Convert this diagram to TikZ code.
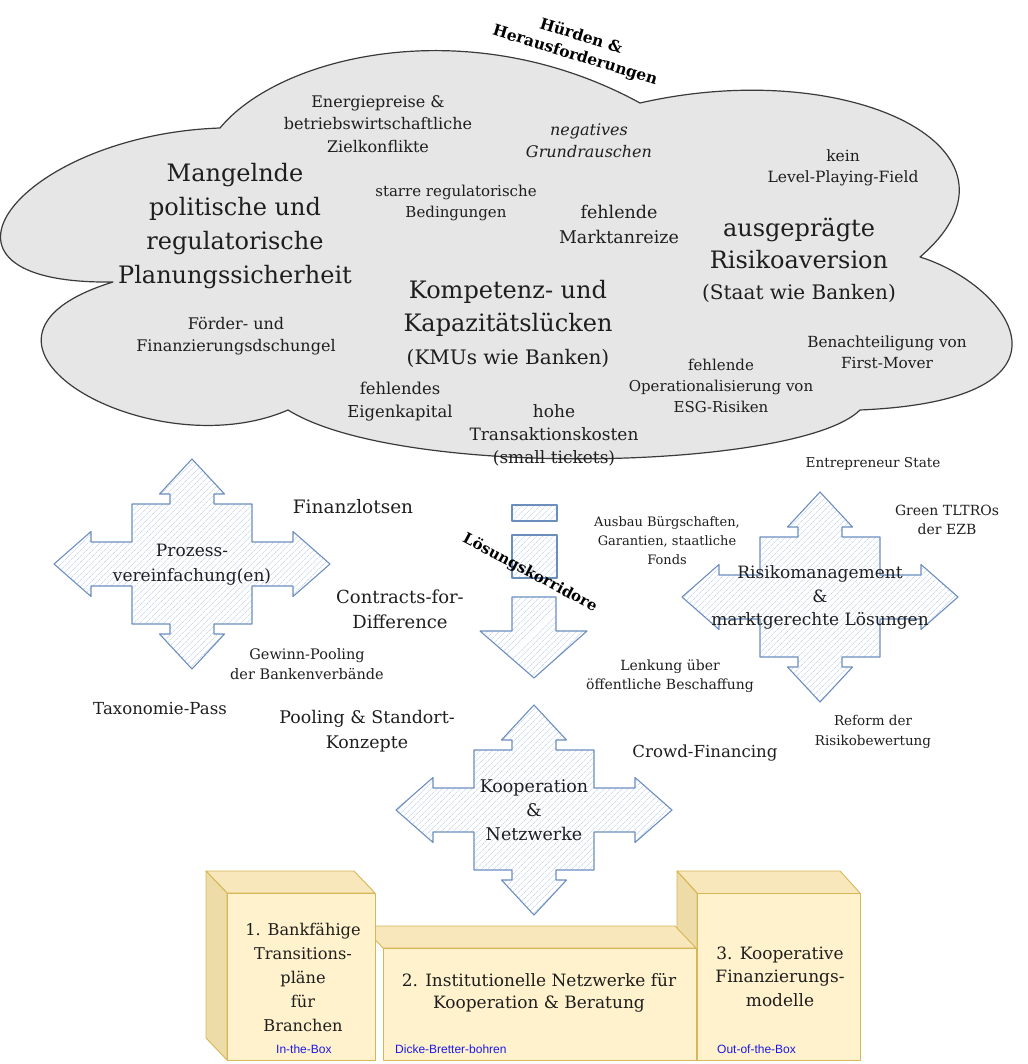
\documentclass[tikz,border=0pt]{standalone}
\usepackage{fontspec}
\setmainfont{DejaVu Serif}
\newfontfamily\labelsans{Liberation Sans}
\usetikzlibrary{patterns.meta}

\definecolor{cloudgray}{HTML}{E6E6E6}
\definecolor{cloudedge}{HTML}{3A3A3A}
\definecolor{crossblue}{HTML}{6C8EBF}
\definecolor{hatchblue}{HTML}{B9CDEA}
\definecolor{boxfront}{HTML}{FFF2CC}
\definecolor{boxtop}{HTML}{F7E7BA}
\definecolor{boxside}{HTML}{EEDCA8}
\definecolor{boxedge}{HTML}{D6B656}
\definecolor{labelblue}{HTML}{1A1AE6}
\definecolor{textdark}{HTML}{1E1E1E}

\tikzset{
  txt/.style={align=center, inner sep=0pt, text=textdark},
  fs/.style 2 args={font=\fontsize{#1}{#2}\selectfont},
  fsbold/.style 2 args={font=\fontsize{#1}{#2}\selectfont\bfseries},
  fsital/.style 2 args={font=\fontsize{#1}{#2}\selectfont\itshape},
  hatched/.style={draw=crossblue, line width=1.1pt, line join=round,
    pattern={Lines[angle=45,distance=4pt,line width=0.5pt]}, pattern color=hatchblue},
  cubeface/.style={draw=boxedge, line width=0.9pt, line join=round},
  boxlabel/.style={inner sep=0pt, text=labelblue, font=\labelsans\fontsize{12}{14}\selectfont},
  crossarrow/.pic={
    \draw[hatched] (0,-105) -- (32.5,-70) -- (22,-70) -- (22,-60) -- (60,-60) -- (60,-22)
      -- (101,-22) -- (101,-32.5) -- (138,0) -- (101,32.5) -- (101,22) -- (60,22)
      -- (60,60) -- (22,60) -- (22,70) -- (32.5,70) -- (0,105) -- (-32.5,70)
      -- (-22,70) -- (-22,60) -- (-60,60) -- (-60,22) -- (-101,22) -- (-101,32.5)
      -- (-138,0) -- (-101,-32.5) -- (-101,-22) -- (-60,-22) -- (-60,-60) -- (-22,-60)
      -- (-22,-70) -- (-32.5,-70) -- cycle;
  }
}

\begin{document}
\begin{tikzpicture}[x=1pt,y=-1pt]
  \useasboundingbox (0,0) rectangle (1027,1064);

  % cloud of obstacles
  \draw[fill=cloudgray, draw=cloudedge, line width=1.2pt, line join=round] (220,128)
    .. controls (280,55) and (470,10) .. (640,103)
    .. controls (850,55) and (1045,150) .. (920,257)
    .. controls (1010,285) and (1095,400) .. (860,410)
    .. controls (800,470) and (400,480) .. (288,410)
    .. controls (150,470) and (-75,340) .. (113,282)
    .. controls (-100,285) and (20,135) .. (220,128) -- cycle;

  \node[txt, fsbold={15.5}{20}, text=black, rotate=-17] (hurden) at (578,46) {Hürden \&\\Herausforderungen};

  \node[txt, fs={16}{22.5}] (energie) at (378,124) {Energiepreise \&\\betriebswirtschaftliche\\Zielkonflikte};
  \node[txt, fsital={16}{22}] (rauschen) at (589,141) {negatives\\Grundrauschen};
  \node[txt, fs={15.5}{21}] (levelfield) at (843,168) {kein\\Level-Playing-Field};
  \node[txt, fs={24}{34}] (planung) at (235,226) {Mangelnde\\politische und\\regulatorische\\Planungssicherheit};
  \node[txt, fs={15}{21}] (starr) at (456,202.5) {starre regulatorische\\Bedingungen};
  \node[txt, fs={17.5}{25}] (marktanreiz) at (619,224.5) {fehlende\\Marktanreize};
  \node[txt, fs={24}{32}] (risikoaversion) at (799,243) {ausgeprägte\\Risikoaversion};
  \node[txt, fs={20}{24}] (staatbanken) at (799,293) {(Staat wie Banken)};
  \node[txt, fs={24}{33}] (kompetenz) at (508,308.5) {Kompetenz- und\\Kapazitätslücken};
  \node[txt, fs={20}{24}] (kmubanken) at (508,358) {(KMUs wie Banken)};
  \node[txt, fs={16}{22}] (dschungel) at (236,336) {Förder- und\\Finanzierungsdschungel};
  \node[txt, fs={15.3}{21}] (firstmover) at (887,352.5) {Benachteiligung von\\First-Mover};
  \node[txt, fs={15}{21}] (esg) at (721,386) {fehlende\\Operationalisierung von\\ESG-Risiken};
  \node[txt, fs={16.4}{23}] (eigenkapital) at (400,401.5) {fehlendes\\Eigenkapital};
  \node[txt, fs={17}{23}] (transaktion) at (554,435.7) {hohe\\Transaktionskosten\\(small tickets)};

  % solution corridors
  \pic (procross) at (192,564) {crossarrow};
  \pic (riskcross) at (820,597) {crossarrow};
  \pic (coopcross) at (534,810) {crossarrow};

  \draw[hatched] (512,505) rectangle (557,521);
  \draw[hatched] (512,535) rectangle (557,578);
  \draw[hatched] (512,597) -- (556,597) -- (556,631) -- (587,631) -- (534,678)
    -- (480,631) -- (512,631) -- cycle;

  \node[txt, fsbold={15}{18}, text=black, rotate=-28] (korridor) at (530,573) {Lösungskorridore};

  \node[txt, fs={17}{25}] (prozess) at (192,564.5) {Prozess-\\vereinfachung(en)};
  \node[txt, fs={17}{23.5}] (risiko) at (820,597.5) {Risikomanagement\\\&\\marktgerechte Lösungen};
  \node[txt, fs={17.5}{24}] (kooperation) at (534,810) {Kooperation\\\&\\Netzwerke};

  \node[txt, fs={18.5}{24}] (lotsen) at (353,507) {Finanzlotsen};
  \node[txt, fs={18}{25}] (cfd) at (400,609.5) {Contracts-for-\\Difference};
  \node[txt, fs={14.5}{20}] (gewinnpool) at (307,664) {Gewinn-Pooling\\der Bankenverbände};
  \node[txt, fs={16.6}{22}] (taxonomie) at (160,709) {Taxonomie-Pass};
  \node[txt, fs={17.4}{25}] (standort) at (367,731.5) {Pooling \& Standort-\\Konzepte};
  \node[txt, fs={13}{18.7}] (buergschaft) at (667,540.7) {Ausbau Bürgschaften,\\Garantien, staatliche\\Fonds};
  \node[txt, fs={13.6}{18}] (entrepreneur) at (873,464) {Entrepreneur State};
  \node[txt, fs={14}{19}] (tltro) at (947,519.5) {Green TLTROs\\der EZB};
  \node[txt, fs={14}{19}] (beschaffung) at (670,676.5) {Lenkung über\\öffentliche Beschaffung};
  \node[txt, fs={13.5}{20}] (risikoreform) at (873,732) {Reform der\\Risikobewertung};
  \node[txt, fs={16.6}{22}] (crowd) at (705,753) {Crowd-Financing};

  % three boxes
  \fill[boxtop] (697,893) -- (677,871) -- (840,871) -- (860,893) -- cycle;
  \draw[cubeface, fill=boxside] (697,893) -- (677,871) -- (677,1038) -- (697,1060) -- cycle;
  \draw[cubeface] (697,893) -- (677,871) -- (840,871) -- (860,893);
  \draw[cubeface, fill=boxfront] (697,893) rectangle (860,1060);

  \draw[cubeface, fill=boxtop] (383,948) -- (362,926) -- (675,926) -- (696,948) -- cycle;
  \draw[cubeface, fill=boxfront] (383,948) rectangle (696,1060);

  \draw[cubeface, fill=boxtop] (227,893) -- (206,871) -- (354,871) -- (375,893) -- cycle;
  \draw[cubeface, fill=boxside] (227,893) -- (206,871) -- (206,1038) -- (227,1060) -- cycle;
  \draw[cubeface, fill=boxfront] (227,893) rectangle (375,1060);

  \node[txt, fs={16.2}{23.8}] (bank) at (303,977.4) {1. Bankfähige\\Transitions-\\pläne\\für\\Branchen};
  \node[txt, fs={17}{22}] (netzwerk) at (539,993) {2. Institutionelle Netzwerke für\\Kooperation \& Beratung};
  \node[txt, fs={17}{23.5}] (kooperativ) at (780,976.7) {3. Kooperative\\Finanzierungs-\\modelle};
  \node[boxlabel, anchor=west] (inbox) at (276,1049) {In-the-Box};
  \node[boxlabel, anchor=west] (dicke) at (395,1049) {Dicke-Bretter-bohren};
  \node[boxlabel, anchor=west] (outbox) at (717,1049) {Out-of-the-Box};
\end{tikzpicture}
\end{document}
